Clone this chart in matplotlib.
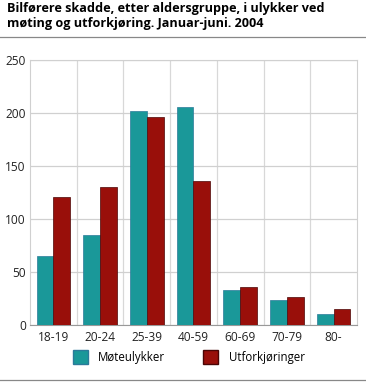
import matplotlib
matplotlib.use('Agg')
import matplotlib.pyplot as plt
import numpy as np
from matplotlib.patches import Patch

plt.rcParams['font.family'] = ['Open Sans', 'DejaVu Sans']

groups = ['18-19', '20-24', '25-39', '40-59', '60-69', '70-79', '80-']
moteulykker = [65, 85, 202, 206, 33, 24, 10]
utforkjoringer = [121, 130, 196, 136, 36, 26, 15]

teal = '#1a9899'
red = '#990f0a'


def main():
    f = plt.figure(figsize=(3.66, 3.83), dpi=100)
    ax = f.add_axes([30 / 366, 1 - 325 / 383, 327 / 366, 265 / 383])

    x = np.arange(len(groups))
    w = 0.36
    ax.bar(x - w / 2, moteulykker, w, color=teal, edgecolor='#2b7a9a', linewidth=0.5, zorder=3)
    ax.bar(x + w / 2, utforkjoringer, w, color=red, edgecolor='#4a0505', linewidth=0.5, zorder=3)

    ax.set_xlim(-0.5, len(groups) - 0.5)
    ax.set_ylim(0, 250)
    ax.set_yticks(np.arange(0, 251, 50))
    ax.set_xticks(x)
    ax.set_xticklabels(groups)
    ax.set_xticks(np.arange(0.5, len(groups) - 1, 1), minor=True)
    ax.grid(axis='y', color='#d0d0d0', linewidth=0.9, zorder=0)
    ax.grid(axis='x', which='minor', color='#d8d8d8', linewidth=0.9, zorder=0)
    ax.tick_params(axis='both', which='both', length=0, labelsize=8.6, colors='#222222', pad=3)
    ax.tick_params(axis='x', pad=4)
    for s in ['top', 'right', 'left']:
        ax.spines[s].set_color('#d0d0d0')
    ax.spines['bottom'].set_color('#999999')

    f.text(0.02, 0.995, 'Bilførere skadde, etter aldersgruppe, i ulykker ved\nmøting og utforkjøring. Januar-juni. 2004',
           fontsize=9.1, fontweight='bold', va='top', ha='left', linespacing=1.2)
    f.add_artist(plt.Line2D([0, 1], [1 - 37 / 383, 1 - 37 / 383], color='#888888', linewidth=0.9))
    f.add_artist(plt.Line2D([0, 1], [1 - 380 / 383, 1 - 380 / 383], color='#888888', linewidth=0.9))

    handles = [Patch(facecolor=teal, edgecolor='#2b7a9a', label='Møteulykker'),
               Patch(facecolor=red, edgecolor='#4a0505', label='Utforkjøringer')]
    f.legend(handles=handles, loc='center', bbox_to_anchor=(0.516, 1 - 357 / 383), ncol=2,
             frameon=False, fontsize=8.3, handlelength=1.3, handleheight=1.4, columnspacing=3.3,
             handletextpad=0.9)

    plt.savefig('out.png', dpi=100)


if __name__ == '__main__':
    main()
